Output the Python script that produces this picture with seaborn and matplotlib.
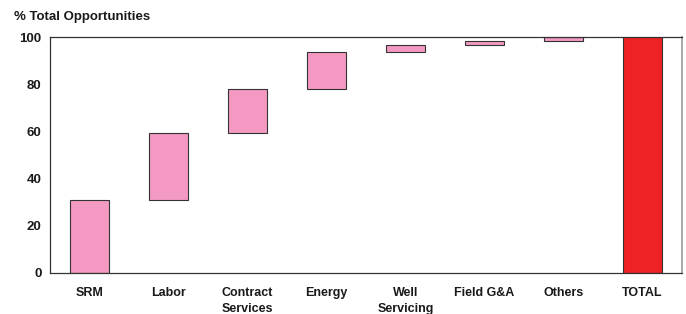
import numpy as np
import matplotlib
matplotlib.use('Agg')
import matplotlib.pyplot as plt
import seaborn as sns

# ── DATA ─────────────────────────────────────────────────────
categories = ["SRM", "Labor", "Contract\nServices", "Energy", "Well\nServicing",
              "Field G&A", "Others", "TOTAL"]
steps = [31.0, 28.3, 18.8, 15.5, 3.0, 1.8, 1.6]
total = 100.0
y_ticks = [0, 20, 40, 60, 80, 100]

heights = steps + [total]
bottoms = list(np.concatenate([[0], np.cumsum(steps)[:-1]])) + [0]

pink = "#F49AC2"
red = "#EE2224"

sns.set_style("white")
plt.rcParams['font.family'] = ['Liberation Sans', 'DejaVu Sans']
plt.rcParams['text.color'] = "#1a1a1a"
plt.rcParams['xtick.color'] = "#1a1a1a"
plt.rcParams['ytick.color'] = "#1a1a1a"

fig = plt.figure(figsize=(6.86, 3.14), dpi=100)
ax = fig.add_axes([0.073, 0.131, 0.921, 0.751])

sns.barplot(x=categories, y=heights, bottom=bottoms, color=pink, saturation=1,
            width=0.5, edgecolor="#333333", linewidth=0.8, ax=ax)
ax.patches[-1].set_facecolor(red)

ax.set_ylim(0, 100)
ax.set_xlim(-0.5, len(categories) - 0.5)
ax.set_yticks(y_ticks)
ax.set_yticklabels([str(t) for t in y_ticks], fontweight="bold", fontsize=9.5)
ax.set_xticks(range(len(categories)))
ax.set_xticklabels(categories, fontweight="bold", fontsize=9, linespacing=1.45, va="top")
ax.set_xticks(np.arange(-0.5, len(categories)), minor=True)
ax.tick_params(axis="x", which="major", length=0, pad=10)
ax.tick_params(axis="x", which="minor", length=3, width=0.8, color="#555555", direction="out")
ax.tick_params(axis="y", length=3, width=0.8, color="#333333", direction="out", pad=3)

for side in ["left", "bottom", "top"]:
    ax.spines[side].set_color("#333333")
    ax.spines[side].set_linewidth(0.9)
ax.spines["right"].set_color("#999999")
ax.spines["right"].set_linewidth(1.2)

fig.text(0.02, 0.945, "% Total Opportunities", fontweight="bold", fontsize=9.5,
         ha="left", va="center")

plt.savefig("out.png", dpi=100)
plt.close()
